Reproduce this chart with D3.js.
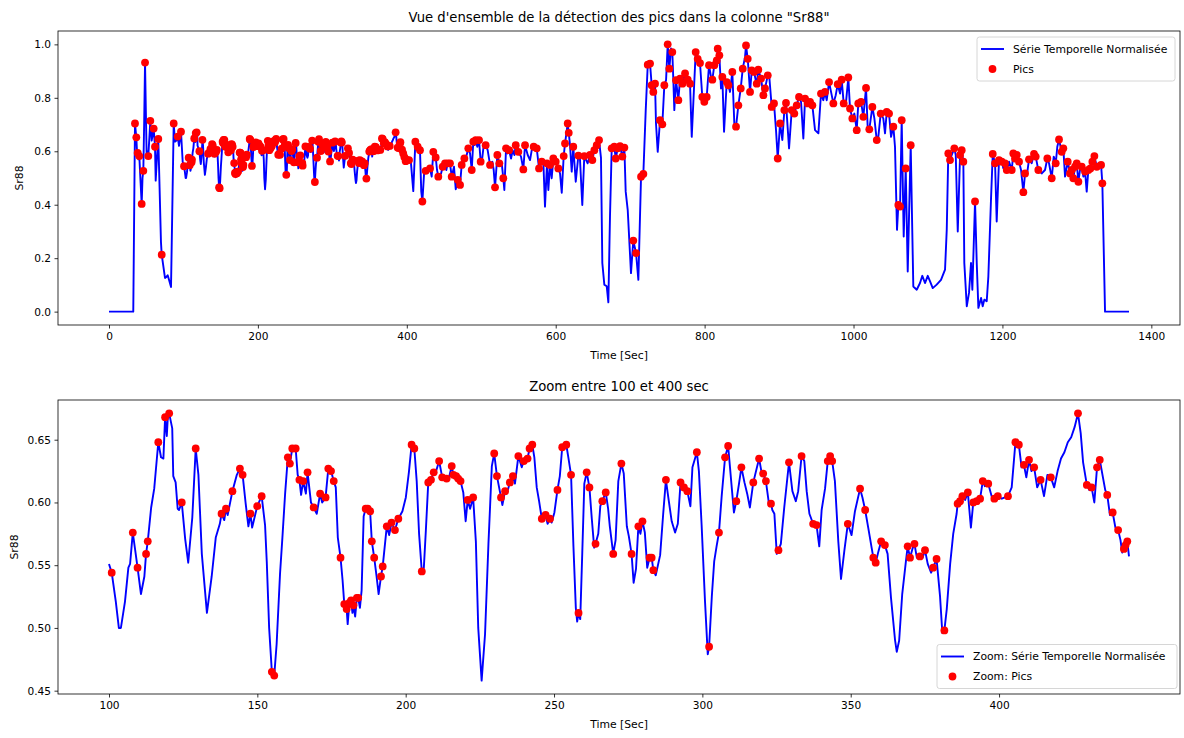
<!DOCTYPE html>
<html>
<head>
<meta charset="utf-8">
<script src="https://cdn.jsdelivr.net/npm/d3@7"></script>
<style>
  body { margin: 0; background: #fff; }
  svg text { font-family: "DejaVu Sans", sans-serif; fill: #000; }
</style>
</head>
<body>
<svg id="chart" width="1184" height="738"></svg>
<script>
// Data: [time, value, pic (1 = peak marker)]
//-----------------------------------------------------------------------------//
const serieDebut = [
  [0,0,0],[32.6,0,0],[34.9,.704,1],[36.7,.652,1],[37.6,.60,0],[38.5,.594,1],[39.6,.57,0],[40.7,.582,1],
  [42.5,.48,0],[43.9,.403,1],[45.0,.50,0],[46.1,.527,1],[47.2,.70,0],[48.4,.932,1],[49.5,.75,0],[50.6,.58,0],
  [51.5,.60,0],[52.8,.582,1],[54.2,.65,0],[55.5,.714,1],[57.3,.64,0],[58.5,.66,0],[60.0,.685,1],[61.8,.617,1],
  [62.7,.49,0],[64.5,.58,0],[66.2,.646,1],[67.5,.51,0],[69.8,.26,0],[70.8,.213,1],[72.5,.18,0],[75.2,.126,0],
  [77.0,.130,0],[78.8,.136,0],[80.5,.120,0],[83.3,.092,0],[86.9,.704,1],[88.7,.636,0],[90.5,.64,0],[92.3,.655,1],
  [94.0,.62,0],[96.7,.673,1],[99.0,.56,0]
];

// zoom window 100 - 400 sec
const serieZoom = [
  [100.0,.551,0],[100.8,.544,1],[102.0,.521,0],[102.9,.500,0],[103.5,.500,0],[104.7,.521,0],[105.7,.548,0],[106.2,.551,0],
  [107.0,.576,1],[107.6,.564,0],[108.4,.548,1],[109.4,.527,0],[110.4,.541,0],[110.9,.559,1],[111.4,.569,1],[112.4,.596,0],
  [113.3,.611,0],[114.5,.648,1],[115.3,.636,0],[116.0,.635,0],[116.5,.668,1],[117.0,.653,0],[117.3,.668,0],[117.7,.671,1],
  [118.6,.659,0],[118.9,.621,0],[119.6,.616,0],[120.2,.595,0],[120.6,.594,0],[121.4,.600,1],[122.4,.571,0],[123.3,.552,0],
  [124.5,.588,0],[125.5,.643,1],[126.3,.622,0],[127.3,.559,0],[128.8,.512,0],[130.2,.541,0],[131.4,.572,0],[132.6,.583,0],
  [133.1,.591,1],[133.9,.586,0],[134.4,.595,1],[134.9,.590,0],[136.3,.609,1],[137.6,.622,0],[138.5,.627,1],[139.0,.620,0],
  [139.3,.622,1],[140.2,.599,0],[141.0,.581,0],[141.6,.591,1],[142.1,.580,0],[143.6,.597,1],[144.9,.605,1],[145.9,.582,0],
  [146.4,.553,0],[147.1,.500,0],[147.9,.465,1],[148.6,.462,1],[149.3,.487,0],[150.3,.543,0],[151.0,.572,0],[151.8,.607,0],
  [152.6,.636,1],[153.2,.631,1],[153.9,.643,1],[154.9,.643,1],[155.5,.622,0],[156.0,.618,1],[156.5,.606,0],[157.1,.617,1],
  [157.9,.607,0],[158.4,.624,1],[159.4,.600,0],[160.2,.596,1],[161.1,.591,0],[162.1,.607,1],[162.7,.600,0],[163.7,.604,1],
  [164.5,.627,1],[165.3,.625,1],[166.1,.617,1],[166.7,.612,0],[167.3,.572,0],[168.1,.556,1],[168.7,.538,0],[169.2,.519,1],
  [169.9,.515,1],[170.2,.503,0],[170.7,.520,1],[171.2,.522,1],[171.6,.512,0],[171.9,.518,1],[172.4,.509,0],[172.9,.524,1],
  [173.3,.524,1],[173.8,.516,0],[174.3,.530,0],[174.9,.589,0],[175.5,.595,1],[176.1,.595,1],[176.8,.593,1],[177.3,.569,1],
  [178.0,.556,1],[178.7,.541,0],[179.3,.527,0],[180.0,.541,1],[180.5,.549,1],[181.7,.581,1],[182.4,.574,0],[183.1,.584,1],
  [184.1,.578,1],[185.1,.587,1],[186.3,.593,0],[187.3,.604,0],[188.2,.624,0],[189.0,.646,1],[189.8,.643,1],[190.5,.617,0],
  [191.2,.575,0],[192.0,.545,1],[192.6,.548,0],[193.2,.578,0],[193.9,.616,1],[194.7,.618,1],[195.5,.624,1],[196.1,.624,0],
  [197.1,.633,1],[198.0,.620,1],[199.3,.619,1],[200.0,.620,0],[200.8,.629,1],[201.3,.622,1],[202.1,.621,1],[202.7,.619,1],
  [203.4,.617,1],[204.2,.608,0],[204.9,.585,0],[205.5,.602,1],[206.2,.595,0],[207.1,.604,1],[207.9,.569,0],[208.6,.500,0],
  [209.6,.458,0],[210.6,.495,0],[211.6,.567,0],[212.6,.629,0],[213.3,.639,1],[214.1,.621,1],[215.3,.604,1],[215.7,.598,0],
  [216.5,.609,1],[217.3,.610,0],[217.9,.616,1],[218.4,.614,0],[218.8,.621,1],[219.4,.615,0],[220.4,.637,1],[221.4,.628,0],
  [222.0,.633,1],[223.1,.635,1],[223.7,.643,1],[224.5,.646,1],[225.1,.636,0],[225.8,.612,0],[226.5,.601,0],[227.3,.587,1],
  [228.4,.590,1],[229.0,.583,0],[229.7,.587,1],[230.2,.584,0],[231.0,.592,0],[231.9,.610,1],[232.6,.621,0],[233.3,.644,1],
  [234.5,.646,1],[235.1,.636,0],[235.9,.622,1],[236.6,.565,0],[237.3,.516,0],[237.7,.505,0],[238.1,.512,1],[238.6,.507,0],
  [239.2,.560,0],[239.8,.615,0],[240.5,.624,1],[241.3,.612,1],[242.0,.587,0],[242.7,.564,0],[243.1,.567,1],[243.9,.575,0],
  [244.5,.597,0],[245.1,.601,1],[246.1,.608,1],[246.8,.595,0],[247.3,.581,0],[248.3,.559,1],[249.0,.570,0],[249.8,.617,0],
  [250.7,.631,1],[251.4,.623,0],[252.3,.581,0],[252.9,.573,0],[253.7,.559,1],[254.3,.536,0],[255.0,.547,0],[255.7,.581,1],
  [256.3,.575,0],[256.9,.585,1],[257.6,.576,0],[258.3,.548,0],[259.0,.556,1],[259.6,.556,1],[260.1,.546,1],[260.8,.542,0],
  [262.1,.558,0],[263.0,.591,0],[263.8,.618,1],[264.5,.604,0],[265.5,.585,0],[266.5,.576,0],[267.3,.583,0],[268.1,.616,1],
  [269.1,.612,1],[270.1,.609,1],[271.0,.597,0],[271.6,.628,0],[272.9,.640,1],[273.5,.625,0],[274.3,.582,0],[275.3,.521,0],
  [276.1,.479,0],[276.5,.485,1],[277.3,.525,0],[278.0,.553,0],[278.7,.565,0],[279.4,.576,1],[280.2,.605,0],[281.2,.636,1],
  [282.1,.645,1],[282.9,.620,0],[283.8,.592,0],[284.5,.601,1],[285.3,.615,0],[286.0,.628,1],[286.9,.616,0],[287.7,.607,0],
  [288.5,.596,0],[289.5,.616,1],[291.2,.635,1],[292.0,.623,0],[292.4,.623,1],[293.2,.617,1],[294.1,.599,0],[294.7,.599,1],
  [295.1,.594,0],[295.7,.591,0],[296.4,.559,0],[296.9,.562,1],[297.6,.567,0],[298.6,.596,0],[300.0,.632,1],[301.0,.609,0],
  [302.0,.601,0],[302.7,.609,0],[303.7,.637,1],[304.5,.633,0],[305.2,.609,0],[306.0,.591,0],[307.1,.583,1],[308.1,.582,1],
  [308.9,.565,0],[309.6,.594,0],[310.6,.611,0],[311.4,.633,1],[312.1,.637,1],[312.7,.633,1],[313.5,.617,0],[314.5,.569,0],
  [315.3,.539,0],[316.3,.562,0],[317.3,.583,1],[318.4,.574,0],[319.4,.593,0],[320.9,.611,1],[321.6,.604,0],[322.4,.594,1],
  [323.3,.580,0],[324.3,.564,0],[324.8,.556,1],[325.5,.552,1],[326.3,.561,0],[327.1,.569,1],[327.7,.565,0],[328.2,.566,1],
  [329.0,.559,0],[330.0,.524,0],[331.2,.490,0],[331.7,.481,0],[332.4,.490,0],[333.3,.527,0],[334.3,.551,0],[334.9,.565,1],
  [335.6,.556,1],[336.3,.563,0],[336.9,.567,1],[337.6,.556,0],[338.5,.557,1],[339.3,.556,0],[340.0,.562,1],[340.8,.551,0],
  [341.8,.544,0],[342.4,.548,1],[343.4,.555,1],[344.4,.526,0],[345.1,.496,0],[345.7,.498,1],[346.4,.515,0],[347.4,.551,0],
  [348.3,.575,0],[349.3,.591,0],[349.6,.599,1],[350.3,.601,1],[351.0,.605,1],[351.8,.602,0],[352.6,.608,1],[353.5,.580,0],
  [354.2,.600,1],[355.2,.601,1],[356.2,.603,1],[357.0,.617,1],[357.6,.613,0],[358.6,.615,1],[359.6,.605,0],[360.4,.603,1],
  [361.4,.605,1],[362.6,.603,0],[363.5,.604,0],[364.4,.605,1],[365.5,.612,0],[366.6,.648,1],[367.6,.646,1],[368.4,.628,0],
  [369.1,.630,1],[369.8,.620,0],[370.6,.634,1],[371.3,.625,0],[372.1,.628,1],[373.0,.612,0],[374.0,.618,1],[375.0,.605,0],
  [376.0,.622,0],[377.0,.620,1],[378.0,.612,0],[379.0,.625,0],[380.0,.635,0],[381.0,.640,0],[382.0,.648,0],[383.0,.652,0],
  [384.0,.660,0],[385.0,.671,1],[385.8,.655,0],[386.5,.632,0],[387.6,.614,1],[388.3,.610,0],[389.0,.612,1],[389.8,.600,0],
  [390.6,.628,1],[391.4,.634,1],[392.2,.622,0],[393.0,.610,0],[393.6,.606,1],[394.4,.590,0],[395.2,.592,1],[396.0,.580,0],
  [396.8,.578,1],[397.5,.570,0],[398.0,.560,0],[398.5,.563,1],[399.0,.566,1],[399.5,.569,1],[400.0,.557,0]
];

const serieFin = [
  [403.0,.567,1],[405.6,.555,0],[408.7,.451,0],[411.5,.636,1],[413.3,.623,0],[414.6,.617,1],[416.4,.592,0],[417.7,.604,1],
  [419.4,.45,0],[420.9,.412,1],[423.5,.530,0],[425.3,.527,1],[428.0,.519,0],[431.2,.536,1],[433.4,.505,0],[435.6,.598,1],
  [438.8,.577,1],[440.6,.530,0],[442.3,.505,1],[446.0,.517,0],[448.2,.542,1],[451.3,.555,1],[453.1,.530,0],[454.9,.555,1],
  [458.0,.555,1],[460.3,.505,1],[463.4,.542,0],[465.7,.458,0],[468.4,.493,1],[471.5,.474,1],[473.7,.549,1],[477.3,.573,1],
  [480.4,.586,0],[482.6,.611,1],[484.9,.592,0],[487.2,.530,1],[489.3,.636,1],[491.1,.623,0],[492.5,.642,1],[494.7,.617,0],
  [497.0,.642,1],[499.2,.561,1],[501.0,.567,0],[502.8,.611,0],[505.9,.623,1],[508.6,.604,0],[511.8,.549,1],[514.9,.561,0],
  [516.7,.530,0],[518.5,.465,1],[521.6,.586,1],[524.3,.555,1],[527.5,.555,0],[529.6,.499,1],[531.0,.455,0],[533.3,.611,1],
  [535.5,.592,0],[537.3,.604,1],[540.0,.573,0],[542.2,.604,0],[544.5,.586,0],[546.3,.623,1],[548.1,.611,0],[549.8,.598,1],
  [553.4,.580,0],[556.5,.532,1],[558.8,.623,1],[562.4,.586,0],[565.5,.567,0],[567.8,.604,0],[570.4,.617,1],[572.2,.604,0],
  [574.5,.611,1],[577.6,.536,1],[581.2,.561,1],[583.4,.561,0],[585.6,.393,0],[588.3,.555,1],[590.1,.455,0],[592.3,.549,1],
  [594.6,.499,0],[596.8,.573,1],[600.0,.561,1],[603.5,.536,1],[605.8,.517,0],[608.1,.445,0],[610.7,.582,1],[612.5,.629,1],
  [616.1,.704,1],[617.5,.669,1],[619.2,.623,0],[621.5,.524,0],[623.6,.617,1],[626.9,.486,0],[630.4,.584,1],[632.5,.575,0],
  [635.7,.399,0],[638.4,.582,1],[642.9,.555,0],[646.1,.586,1],[649.2,.567,1],[651.9,.604,1],[655.1,.623,1],[658.2,.642,1],
  [660.8,.575,0],[662.6,.182,0],[665.3,.101,0],[668.5,.095,0],[670.7,.035,0],[672.9,.356,0],[675.2,.611,1],[678.7,.617,1],
  [680.6,.573,1],[683.3,.611,1],[686.4,.619,1],[689.5,.580,1],[692.2,.614,1],[694.0,.449,0],[696.7,.381,0],[701.1,.144,0],
  [704.2,.266,1],[707.9,.219,1],[711.0,.119,0],[714.6,.505,1],[717.7,.515,1],[720.9,.754,0],[723.6,.924,1],[726.7,.928,1],
  [728.9,.847,1],[731.1,.822,1],[733.4,.853,1],[734.7,.704,0],[737.0,.598,0],[740.1,.716,1],[743.2,.701,1],[745.9,.847,1],
  [748.2,.866,0],[750.4,1.0,1],[752.6,.909,1],[754.9,.985,0],[756.6,.971,1],[758.0,.866,0],[759.3,.754,0],[761.6,.866,1],
  [764.7,.791,1],[767.0,.872,1],[770.1,.853,1],[773.7,.891,1],[777.3,.868,1],[780.4,.853,1],[782.7,.654,0],[788.0,.971,1],
  [790.7,.946,1],[793.8,.930,1],[796.9,.803,1],[799.6,.785,1],[802.8,.803,1],[805.9,.922,1],[808.6,.878,0],[810.4,.868,1],
  [813.0,.922,1],[816.3,.940,1],[817.6,.984,1],[819.8,.959,1],[822.0,.835,0],[823.8,.878,1],[826.1,.673,0],[829.7,.859,1],
  [831.9,.847,1],[834.1,.822,0],[837.2,.897,1],[839.9,.704,0],[842.2,.692,1],[845.3,.772,1],[848.5,.835,1],[851.2,.909,1],
  [854.3,.953,0],[855.6,.996,1],[857.9,.946,1],[861.0,.822,1],[863.3,.903,1],[866.4,.897,1],[868.6,.866,0],[870.0,.853,1],
  [872.1,.905,1],[875.8,.872,1],[878.9,.810,1],[881.1,.835,1],[884.8,.884,1],[886.9,.878,0],[890.1,.766,1],[893.2,.779,1],
  [895.9,.679,0],[898.2,.573,1],[901.3,.704,1],[904.4,.642,0],[907.1,.754,1],[909.3,.781,1],[913.4,.611,0],[917.0,.754,1],
  [920.5,.741,1],[923.7,.772,1],[926.8,.803,1],[929.5,.785,0],[932.6,.648,0],[934.9,.797,1],[938.5,.779,1],[941.6,.785,1],
  [944.7,.772,1],[948.3,.679,0],[952.8,.667,0],[956.3,.816,1],[959.4,.791,0],[961.7,.822,1],[964.0,.791,0],[967.1,.859,1],
  [970.7,.810,0],[972.9,.779,1],[976.1,.810,0],[978.8,.851,1],[981.9,.816,0],[984.1,.868,1],[986.8,.779,1],[989.5,.772,0],
  [993.0,.876,1],[995.3,.760,1],[998.4,.723,1],[1001.1,.741,0],[1004.3,.679,1],[1006.4,.779,1],[1010.1,.785,1],[1013.2,.729,1],
  [1016.8,.837,1],[1019.1,.685,0],[1021.2,.682,1],[1025.3,.766,1],[1028.0,.723,0],[1031.2,.642,1],[1033.3,.654,0],[1036.5,.741,1],
  [1040.0,.723,0],[1042.3,.667,0],[1044.6,.747,1],[1047.7,.741,1],[1050.4,.654,0],[1053.5,.692,1],[1055.7,.617,0],[1058.4,.306,0],
  [1060.2,.399,1],[1062.5,.393,1],[1064.7,.716,1],[1067.4,.281,0],[1070.1,.536,1],[1072.8,.150,0],[1076.8,.623,1],[1080.3,.094,0],
  [1084.9,.082,0],[1089.3,.107,0],[1092.4,.134,0],[1096.0,.107,0],[1099.7,.134,0],[1102.8,.113,0],[1106.4,.088,0],[1111.7,.101,0],
  [1117.5,.119,0],[1122.9,.157,0],[1125.2,.306,0],[1127.3,.592,1],[1129.6,.567,1],[1131.9,.586,0],[1135.4,.611,1],[1137.3,.586,0],
  [1140.0,.300,0],[1143.1,.586,1],[1145.3,.604,1],[1147.5,.561,1],[1148.8,.182,0],[1152.1,.020,0],[1155.1,.070,0],[1157.8,.182,0],
  [1159.6,.082,0],[1163.2,.412,1],[1165.5,.182,0],[1167.7,.014,0],[1171.3,.051,0],[1173.5,.020,0],[1175.7,.045,0],[1178.9,.039,0],
  [1181.1,.132,0],[1184.7,.424,0],[1187.0,.590,1],[1190.1,.555,1],[1192.3,.337,0],[1195.4,.567,1],[1199.1,.561,1],[1201.2,.536,0],
  [1203.5,.555,1],[1205.8,.530,1],[1208.9,.561,0],[1212.5,.530,1],[1214.6,.592,1],[1216.9,.573,1],[1219.2,.586,1],[1222.3,.561,1],
  [1225.0,.530,0],[1228.1,.447,1],[1230.4,.517,1],[1233.5,.524,0],[1235.7,.570,1],[1239.3,.555,0],[1242.4,.590,1],[1244.7,.580,1],
  [1248.2,.530,1],[1252.8,.517,0],[1257.2,.530,0],[1260.3,.573,1],[1262.6,.555,0],[1266.2,.499,1],[1268.9,.580,0],[1271.6,.555,1],
  [1273.7,.617,0],[1276.0,.644,1],[1279.6,.598,1],[1281.8,.611,1],[1284.1,.505,0],[1287.7,.561,1],[1290.8,.517,1],[1293.1,.530,1],
  [1295.2,.499,1],[1297.5,.542,1],[1299.8,.555,1],[1302.0,.486,1],[1304.2,.530,0],[1306.5,.542,1],[1308.7,.505,0],[1311.0,.524,1],
  [1313.2,.449,0],[1315.4,.530,1],[1318.1,.536,1],[1320.8,.561,1],[1323.5,.582,1],[1326.7,.542,1],[1328.9,.555,0],[1332.5,.549,1],
  [1334.2,.480,1],[1337.8,0,0],[1370,0,0]
];

const ticksXHaut = [0, 200, 400, 600, 800, 1000, 1200, 1400];
const ticksYHaut = [0, 0.2, 0.4, 0.6, 0.8, 1.0];
const ticksXZoom = [100, 150, 200, 250, 300, 350, 400];
const ticksYZoom = [0.45, 0.50, 0.55, 0.60, 0.65];

// the zoom panel's x axis runs in its own unit: 300 s of signal span 100 -> ~444 on it
const debutZoom = 100;
const uniteAxeZoom = 1.146;

const serieComplete = serieDebut.concat(serieZoom, serieFin);
const serieZoomAxe = serieZoom.map(d => [debutZoom + (d[0] - debutZoom) * uniteAxeZoom, d[1], d[2]]);

const svg = d3.select("#chart");

// Helper: matplotlib style 5% margin around the data
function marge(ext) {
  const m = (ext[1] - ext[0]) * 0.05;
  return [ext[0] - m, ext[1] + m];
}

// Draws one subplot
//-----------------------------------------------------------------------------//
function dessinePanneau(cfg) {
  const { data, top, bottom, left, right } = cfg;

  const x = d3.scaleLinear()
    .domain(marge(d3.extent(data, d => d[0])))
    .range([left, right]);
  const y = d3.scaleLinear()
    .domain(marge(d3.extent(data, d => d[1])))
    .range([bottom, top]);

  const g = svg.append("g");

  // clip so nothing leaks outside the axes box
  const clipId = "clip" + cfg.id;
  svg.append("clipPath").attr("id", clipId)
    .append("rect")
    .attr("x", left).attr("y", top)
    .attr("width", right - left).attr("height", bottom - top);

  const plot = g.append("g").attr("clip-path", `url(#${clipId})`);

  const line = d3.line().x(d => x(d[0])).y(d => y(d[1]));

  plot.append("path")
    .datum(data)
    .attr("d", line)
    .attr("fill", "none")
    .attr("stroke", "#0000ff")
    .attr("stroke-width", 1.9)
    .attr("stroke-linejoin", "round");

  plot.selectAll("circle")
    .data(data.filter(d => d[2] === 1))
    .join("circle")
    .attr("cx", d => x(d[0]))
    .attr("cy", d => y(d[1]))
    .attr("r", 3.9)
    .attr("fill", "#ff0000");

  // axes
  const axeX = g.append("g")
    .attr("transform", `translate(0,${bottom})`)
    .call(d3.axisBottom(x).tickValues(cfg.ticksX).tickSize(3.5).tickPadding(3.5).tickFormat(d3.format("d")));
  const axeY = g.append("g")
    .attr("transform", `translate(${left},0)`)
    .call(d3.axisLeft(y).tickValues(cfg.ticksY).tickSize(3.5).tickPadding(3.5).tickFormat(d3.format(cfg.fmtY)));

  [axeX, axeY].forEach(a => {
    a.select(".domain").remove();
    a.selectAll("line").attr("stroke", "#000").attr("stroke-width", 0.8);
    a.selectAll("text").style("font-size", "10.6px").attr("fill", "#000");
  });

  // spines
  g.append("rect")
    .attr("x", left).attr("y", top)
    .attr("width", right - left).attr("height", bottom - top)
    .attr("fill", "none")
    .attr("stroke", "#000")
    .attr("stroke-width", 0.8);

  // titles and labels
  g.append("text")
    .attr("x", (left + right) / 2).attr("y", top - 9)
    .attr("text-anchor", "middle")
    .style("font-size", "13.2px")
    .text(cfg.titre);

  g.append("text")
    .attr("x", (left + right) / 2).attr("y", bottom + 34)
    .attr("text-anchor", "middle")
    .style("font-size", "10.8px")
    .text("Time [Sec]");

  g.append("text")
    .attr("transform", `translate(${cfg.yLabelX},${(top + bottom) / 2}) rotate(-90)`)
    .attr("text-anchor", "middle")
    .style("font-size", "10.8px")
    .text("Sr88");

  // legend
  const lg = cfg.legende;
  const leg = g.append("g");
  leg.append("rect")
    .attr("x", lg.x).attr("y", lg.y)
    .attr("width", lg.w).attr("height", 44)
    .attr("rx", 2.5)
    .attr("fill", "#fff").attr("fill-opacity", 0.8)
    .attr("stroke", "#cccccc").attr("stroke-width", 0.8);
  leg.append("line")
    .attr("x1", lg.x + 4).attr("x2", lg.x + 27)
    .attr("y1", lg.y + 12).attr("y2", lg.y + 12)
    .attr("stroke", "#0000ff").attr("stroke-width", 1.9);
  leg.append("circle")
    .attr("cx", lg.x + 15.5).attr("cy", lg.y + 32)
    .attr("r", 3.9).attr("fill", "#ff0000");
  leg.append("text")
    .attr("x", lg.x + 36).attr("y", lg.y + 12).attr("dy", "0.35em")
    .style("font-size", "10.8px")
    .text(lg.labels[0]);
  leg.append("text")
    .attr("x", lg.x + 36).attr("y", lg.y + 32).attr("dy", "0.35em")
    .style("font-size", "10.8px")
    .text(lg.labels[1]);
}

dessinePanneau({
  id: 1,
  data: serieComplete,
  top: 31, bottom: 325, left: 58, right: 1180,
  ticksX: ticksXHaut, ticksY: ticksYHaut, fmtY: ".1f",
  titre: "Vue d'ensemble de la détection des pics dans la colonne \"Sr88\"",
  yLabelX: 23,
  legende: { x: 977, y: 37, w: 198, labels: ["Série Temporelle Normalisée", "Pics"] }
});

dessinePanneau({
  id: 2,
  data: serieZoomAxe,
  top: 400, bottom: 694, left: 58, right: 1180,
  ticksX: ticksXZoom, ticksY: ticksYZoom, fmtY: ".2f",
  titre: "Zoom entre 100 et 400 sec",
  yLabelX: 18,
  legende: { x: 937, y: 644.5, w: 240, labels: ["Zoom: Série Temporelle Normalisée", "Zoom: Pics"] }
});
</script>
</body>
</html>
